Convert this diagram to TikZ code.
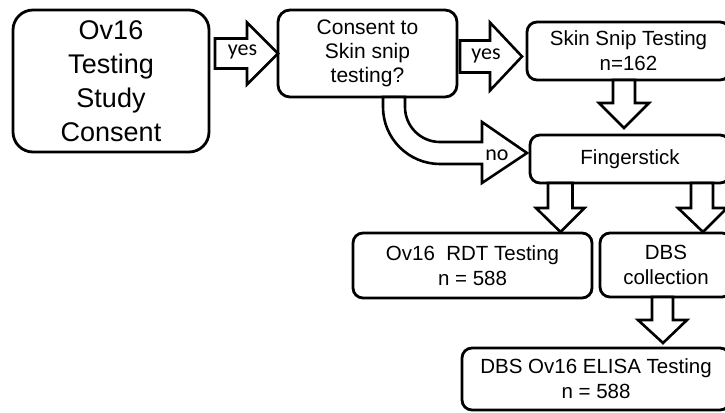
\documentclass[tikz,border=0pt]{standalone}
\usepackage{fontspec}
\setmainfont{Liberation Sans}
\newfontfamily\lblfont{Carlito}
\usetikzlibrary{calc,positioning}

\begin{document}
\begin{tikzpicture}[x=1pt,y=-1pt,
    box/.style={draw, line width=2.8pt, rounded corners=10pt, align=center,
      inner sep=0pt, outer sep=0pt, font=\fontsize{20.5}{25}\selectfont},
    blockarrow/.style={draw, line width=2.6pt, line join=miter, fill=white},
    lbl/.style={inner sep=0pt, font=\lblfont\fontsize{22}{24}\selectfont}]
    \useasboundingbox (0,0) rectangle (725,412);

    % boxes
    \node[box, rounded corners=20pt, minimum width=196pt, minimum height=142pt,
      font=\fontsize{27}{34}\selectfont] (ov) at (111,81)
      {Ov16\\Testing\\Study\\Consent};
    \node[box, rounded corners=12pt, minimum width=179pt, minimum height=87pt,
      font=\fontsize{21}{24}\selectfont] (q) at (367.5,53.5)
      {Consent to\\Skin snip\\testing?};
    \node[box, minimum width=203pt, minimum height=58pt] (snip) at (628.5,51)
      {Skin Snip Testing\\n=162};
    \node[box, minimum width=200pt, minimum height=48pt] (fing) at (630,159)
      {Fingerstick};
    \node[box, minimum width=239pt, minimum height=65pt] (rdt) at (472.5,265.5)
      {Ov16~~RDT Testing\\n = 588};
    \node[box, minimum width=132pt, minimum height=64pt] (dbs) at (666,265)
      {DBS\\collection};
    \node[box, minimum width=268pt, minimum height=62pt] (elisa) at (596,379)
      {DBS Ov16 ELISA Testing\\n = 588};

    % block arrows
    \draw[blockarrow] (ov.east |- q.west) ++(6,-15) -- ++(32,0) -- ++(0,-16)
      -- (q.west) -- ++(-31,31) -- ++(0,-16) -- ++(-32,0) -- cycle;
    \draw[blockarrow] (q.east) ++(3,-13) -- ++(30,0) -- ++(0,-18)
      -- ($(snip.west |- q.east)+(-5,3)$) -- ++(-32,34) -- ++(0,-18)
      -- ++(-30,0) -- cycle;
    \draw[blockarrow] (q.south) ++(15.5,0) -- ++(0,10)
      arc[start angle=180, end angle=90, radius=57] -- ++(42,0) -- ++(0,19)
      -- ($(fing.west)+(-3,-6)$) -- ++(-45,-31) -- ++(0,20) -- ++(-42,0)
      arc[start angle=90, end angle=180, radius=35] -- ++(0,-10) -- cycle;
    \draw[blockarrow] (snip.south) ++(-15.5,0) -- ++(0,23) -- ++(-14,0)
      -- ($(fing.north)+(-6,-7)$) -- ++(25,-25) -- ++(-14,0) -- ++(0,-23) -- cycle;
    \draw[blockarrow] (fing.south) ++(-82,0) -- ++(0,25) -- ++(-12,0)
      -- ($(rdt.north)+(88,-1)$) -- ++(24,-24) -- ++(-12,0) -- ++(0,-25) -- cycle;
    \draw[blockarrow] (fing.south) ++(61,0) -- ++(0,25) -- ++(-13,0)
      -- ($(dbs.north)+(37,-1)$) -- ++(24,-24) -- ++(-14,0) -- ++(0,-25) -- cycle;
    \draw[blockarrow] (dbs.south) ++(-14,0) -- ++(0,23) -- ++(-14,0)
      -- ($(elisa.north)+(67,-5)$) -- ++(24,-23) -- ++(-14,0) -- ++(0,-23) -- cycle;

    % arrow labels
    \node[lbl] (yes1) at (242.5,52) {yes};
    \node[lbl] (yes2) at (486,56) {yes};
    \node[lbl] (no) at (497,155) {no};
\end{tikzpicture}
\end{document}
